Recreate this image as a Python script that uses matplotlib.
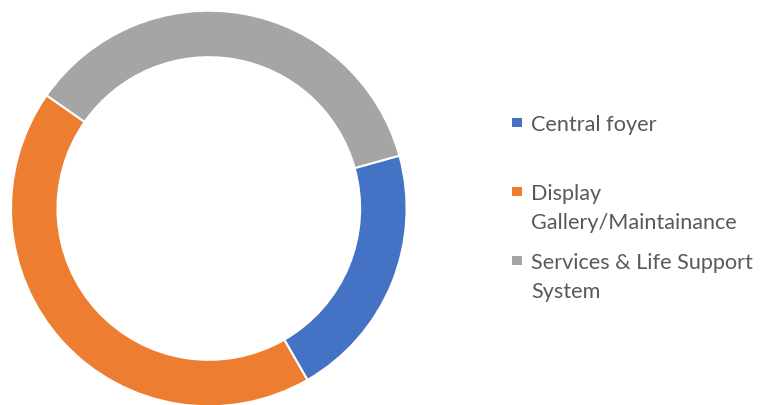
import matplotlib
matplotlib.use("Agg")
import matplotlib.pyplot as plt

# Share of each area
categories = ["Central foyer", "Display\nGallery/Maintainance", "Services & Life Support\nSystem"]
shares = [21, 43, 36]
colors = ["#4472C4", "#ED7D31", "#A5A5A5"]

W, H = 760, 406
fig = plt.figure(figsize=(W / 100, H / 100), dpi=100)

# Ring placed by pixel geometry: centre and outer radius
cx, cy, r_out = 208.8, 209.5, 197.8
ax = fig.add_axes([(cx - r_out) / W, (H - cy - r_out) / H, 2 * r_out / W, 2 * r_out / H])
ax.pie(shares, colors=colors, startangle=15.5, counterclock=False, radius=1.0,
       wedgeprops=dict(width=0.235, edgecolor="white", linewidth=1.5))
ax.set_xlim(-1, 1)
ax.set_ylim(-1, 1)
ax.set_aspect("equal")
ax.axis("off")

# Legend drawn as marker squares with wrapped labels
text_color = "#595959"
font = dict(family=["Lato", "DejaVu Sans"], size=15.6, color=text_color)
marker_x, text_x = 517, 531
first_baselines = [131.0, 200.0, 269.0]
line_gap = 29.0
sq = 9.4
for label, color, base in zip(categories, colors, first_baselines):
    lines = label.split("\n")
    cap_mid = base - 7.8
    fig.patches.append(plt.Rectangle(((marker_x - sq / 2) / W, (H - cap_mid - sq / 2) / H),
                                     sq / W, sq / H, transform=fig.transFigure,
                                     facecolor=color, edgecolor="none"))
    for i, line in enumerate(lines):
        fig.text(text_x / W, (H - (base + i * line_gap)) / H, line,
                 ha="left", va="baseline", **font)

fig.savefig("out.png", dpi=100, facecolor="white")
